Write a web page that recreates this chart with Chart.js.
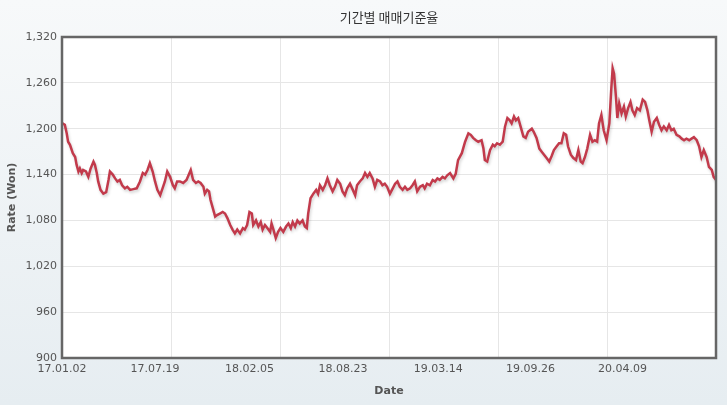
<!DOCTYPE html>
<html>
<head>
<meta charset="utf-8">
<script src="https://cdn.jsdelivr.net/npm/chart.js@4/dist/chart.umd.min.js"></script>
<style>
html, body { margin: 0; padding: 0; }
body { width: 727px; height: 405px; overflow: hidden; }
</style>
</head>
<body>
<canvas id="rateChart" width="727" height="405"></canvas>
<script>
// day offsets from 2017-01-02
var days = [
  1, 6, 10, 13, 17, 23, 28, 31, 35, 38, 42, 45, 51, 56, 61, 67, 70, 74, 77, 82,
  88, 94, 99, 102, 108, 113, 118, 123, 128, 134, 139, 145, 152, 159, 166, 172, 177, 182, 187, 193,
  198, 203, 209, 214, 219, 224, 230, 236, 240, 245, 251, 258, 265, 274,
  279, 285, 290, 295, 301, 304, 309, 313, 316, 321, 326, 330, 336, 342, 347, 352, 358, 363, 368, 373,
  379, 385, 389, 394, 399, 404, 407, 413, 418, 423, 427, 432, 437, 443, 446, 450, 455, 460, 465, 471,
  477, 482, 487, 491, 496, 501, 506, 512, 517, 521, 524, 529, 535, 541, 545,
  549, 555, 560, 565, 570, 576, 581, 586, 592, 597, 602, 607, 613, 619, 624, 628, 634, 640, 645, 650,
  655, 661, 666, 671, 677, 682, 687, 692, 698, 704, 709, 714, 719, 725, 730, 735, 741, 746, 751, 756,
  762, 768, 772, 777, 783, 789, 794, 799, 804, 810, 815, 820, 826,
  833, 838, 843, 851, 858, 865, 870, 875, 881, 886, 893, 897, 900, 905, 911, 917, 921, 926, 932, 938,
  943, 948, 953, 957, 962, 966, 971, 976, 982, 987, 992, 1000, 1004, 1010, 1016, 1021, 1026, 1031, 1037, 1042,
  1047, 1053, 1058, 1063, 1068, 1073, 1077, 1083, 1088, 1094, 1099, 1104,
  1108, 1113, 1118, 1124, 1129, 1134, 1139, 1143, 1148, 1153, 1159, 1165, 1169, 1172, 1175, 1179, 1182, 1186, 1191, 1196,
  1200, 1205, 1210, 1214, 1219, 1224, 1230, 1236, 1241, 1246, 1250, 1255, 1260, 1266, 1271, 1276, 1281, 1287, 1292, 1297,
  1302, 1308, 1314, 1319, 1324, 1329, 1335, 1340, 1345, 1351, 1356, 1361, 1366, 1372, 1377, 1383, 1387, 1392
];
var rates = [
  1207, 1205, 1194, 1183, 1179, 1168, 1163, 1153, 1144, 1148, 1142, 1146, 1144, 1137, 1148, 1157, 1153, 1142, 1131, 1120,
  1115, 1117, 1133, 1144, 1140, 1135, 1131, 1133, 1126, 1122, 1124, 1120, 1121, 1122, 1131, 1142, 1140, 1146, 1155, 1144,
  1131, 1120, 1113, 1122, 1131, 1144, 1137, 1126, 1122, 1131, 1131, 1129, 1133, 1146,
  1133, 1129, 1131, 1129, 1124, 1115, 1120, 1118, 1107, 1096, 1085, 1087, 1089, 1091, 1089, 1083, 1074, 1068, 1063, 1068,
  1063, 1070, 1068, 1074, 1091, 1089, 1074, 1080, 1072, 1078, 1068, 1074, 1070, 1065, 1076, 1068, 1057, 1065, 1070, 1065,
  1072, 1076, 1070, 1078, 1072, 1080, 1076, 1080, 1072, 1070, 1089, 1109, 1115, 1120, 1115,
  1126, 1120, 1126, 1135, 1126, 1118, 1124, 1133, 1128, 1118, 1113, 1122, 1128, 1120, 1113, 1126, 1131, 1135, 1142, 1137,
  1142, 1135, 1124, 1133, 1131, 1126, 1128, 1124, 1115, 1122, 1128, 1131, 1124, 1120, 1124, 1120, 1122, 1126, 1131, 1118,
  1124, 1126, 1122, 1128, 1126, 1133, 1131, 1135, 1133, 1137, 1135, 1139, 1142,
  1135, 1141, 1159, 1168, 1183, 1194, 1192, 1188, 1185, 1183, 1185, 1174, 1159, 1157, 1172, 1179, 1177, 1181, 1179, 1183,
  1203, 1214, 1211, 1207, 1216, 1211, 1214, 1203, 1190, 1188, 1196, 1200, 1196, 1188, 1174, 1170, 1166, 1162, 1157, 1164,
  1172, 1177, 1181, 1181, 1194, 1192, 1177, 1166, 1162, 1159, 1172, 1157,
  1155, 1163, 1174, 1192, 1183, 1185, 1183, 1207, 1218, 1198, 1185, 1207, 1251, 1279, 1272, 1242, 1214, 1233, 1220, 1229,
  1216, 1227, 1235, 1224, 1218, 1227, 1224, 1238, 1235, 1224, 1211, 1196, 1209, 1214, 1205, 1198, 1203, 1198, 1205, 1198,
  1200, 1192, 1190, 1187, 1185, 1187, 1185, 1187, 1189, 1185, 1177, 1163, 1172, 1163, 1150, 1146, 1137, 1133
];
var tickDays = [0, 198, 399, 598, 801, 997, 1193];
var tickLabels = ['17.01.02', '17.07.19', '18.02.05', '18.08.23', '19.03.14', '19.09.26', '20.04.09'];
var lastDay = 1392;

var fontFamily = "'DejaVu Sans', Verdana, sans-serif";

// page background, white plot area, line shadow and frame
var plotDecor = {
  id: 'plotDecor',
  beforeDraw: function(chart) {
    var ctx = chart.ctx, a = chart.chartArea;
    var g = ctx.createLinearGradient(0, 0, 0, chart.height);
    g.addColorStop(0, '#f7f9fa');
    g.addColorStop(1, '#e6edf1');
    ctx.save();
    ctx.fillStyle = g;
    ctx.fillRect(0, 0, chart.width, chart.height);
    ctx.fillStyle = '#ffffff';
    ctx.fillRect(a.left, a.top, a.right - a.left, a.bottom - a.top);
    ctx.restore();
  },
  beforeDatasetsDraw: function(chart) {
    var ctx = chart.ctx;
    ctx.save();
    ctx.shadowColor = 'rgba(0,0,0,0.18)';
    ctx.shadowBlur = 3;
    ctx.shadowOffsetX = 1;
    ctx.shadowOffsetY = 2;
  },
  afterDatasetsDraw: function(chart) {
    var ctx = chart.ctx, a = chart.chartArea;
    ctx.restore();
    ctx.save();
    ctx.strokeStyle = '#666666';
    ctx.lineWidth = 2.5;
    ctx.strokeRect(a.left, a.top, a.right - a.left, a.bottom - a.top);
    ctx.restore();
  }
};

var rateChart = new Chart(document.getElementById('rateChart'), {
  type: 'line',
  data: {
    datasets: [{
      data: days.map(function(d, i) { return { x: d, y: rates[i] }; }),
      borderColor: '#c23a4b',
      borderWidth: 2.5,
      pointRadius: 0,
      tension: 0,
      fill: false
    }]
  },
  options: {
    responsive: false,
    animation: false,
    layout: { padding: { left: 0, right: 11, top: 0, bottom: 0 } },
    plugins: {
      legend: { display: false },
      tooltip: { enabled: false },
      title: {
        display: true,
        text: '기간별 매매기준율',
        fullSize: false,
        color: '#333333',
        font: { family: "'Noto Sans CJK KR', sans-serif", size: 13, weight: 'normal' },
        padding: { top: 9, bottom: 12.4 }
      }
    },
    scales: {
      x: {
        type: 'linear',
        min: 0,
        max: lastDay,
        afterBuildTicks: function(scale) {
          var t = [];
          tickDays.forEach(function(d, i) { t.push({ value: d, lbl: tickLabels[i] }); });
          for (var k = 1; k < 6; k++) t.push({ value: lastDay * k / 6, grid: true });
          t.sort(function(a, b) { return a.value - b.value; });
          scale.ticks = t;
        },
        afterFit: function(scale) { scale.height = 47; },
        ticks: {
          autoSkip: false,
          maxRotation: 0,
          padding: 5,
          color: '#555555',
          font: { family: fontFamily, size: 11 },
          callback: function(v, i, ticks) { return ticks[i].lbl || ''; }
        },
        grid: {
          drawTicks: false,
          color: function(c) { return c.tick && c.tick.grid ? '#e6e6e6' : 'rgba(0,0,0,0)'; }
        },
        border: { display: false },
        title: {
          display: true,
          text: 'Date',
          color: '#555555',
          font: { family: fontFamily, size: 11, weight: 'bold' },
          padding: { top: 0, bottom: 7.4 }
        }
      },
      y: {
        min: 900,
        max: 1320,
        afterFit: function(scale) { scale.width = 62; },
        ticks: {
          stepSize: 60,
          padding: 5,
          color: '#555555',
          font: { family: fontFamily, size: 11 },
          callback: function(v) { return v.toLocaleString('en-US'); }
        },
        grid: { drawTicks: false, color: '#e6e6e6' },
        border: { display: false },
        title: {
          display: true,
          text: 'Rate (Won)',
          color: '#555555',
          font: { family: fontFamily, size: 11, weight: 'bold' },
          padding: { top: 6, bottom: 0 }
        }
      }
    }
  },
  plugins: [plotDecor]
});
</script>
</body>
</html>
